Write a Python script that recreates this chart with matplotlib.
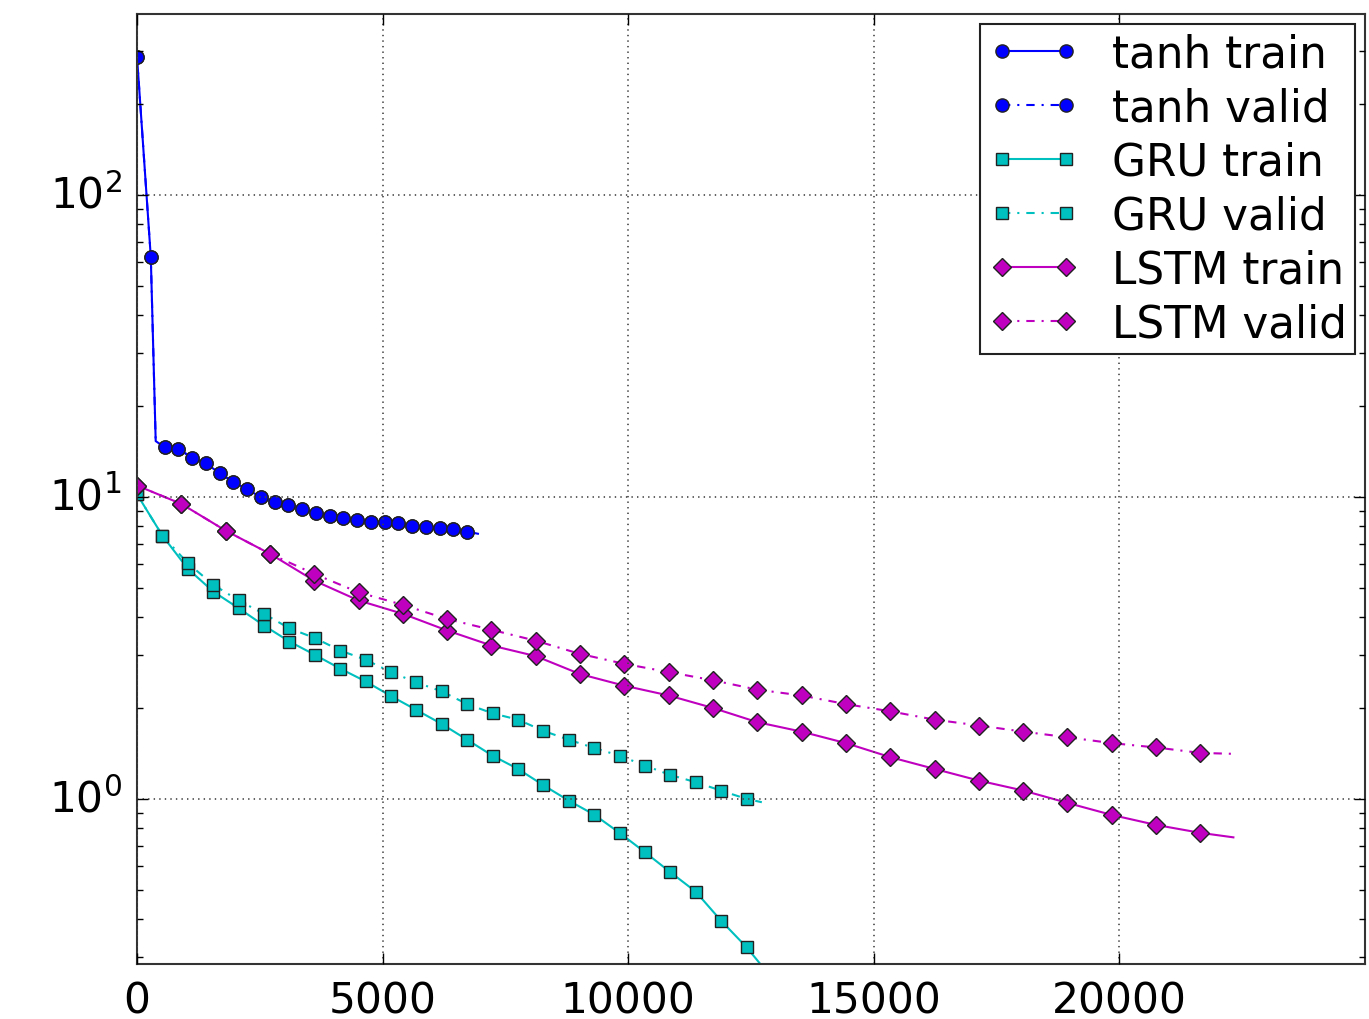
import matplotlib
matplotlib.use('Agg')
import matplotlib.pyplot as plt
from matplotlib.ticker import LogLocator, NullFormatter

# ---------------- data ----------------
tanh_steps = [0, 280, 380, 560, 840, 1120, 1400, 1680, 1960, 2240, 2520, 2800, 3080,
              3360, 3640, 3920, 4200, 4480, 4760, 5040, 5320, 5600, 5880, 6160, 6440,
              6720, 6940]
tanh_train = [286, 62.3, 15.3, 14.6, 14.4, 13.5, 12.9, 12.0, 11.2, 10.6, 9.98, 9.61, 9.43,
              9.13, 8.85, 8.67, 8.50, 8.41, 8.25, 8.25, 8.18, 8.03, 7.94, 7.88, 7.84,
              7.68, 7.55]
tanh_valid = [286, 62.3, 15.3, 14.6, 14.4, 13.5, 12.9, 12.0, 11.2, 10.6, 9.98, 9.61, 9.43,
              9.13, 8.85, 8.67, 8.50, 8.41, 8.25, 8.25, 8.18, 8.03, 7.94, 7.88, 7.84,
              7.68, 7.55]
tanh_marks = [0, 1] + list(range(3, 26))

gru_steps = [0, 517, 1034, 1551, 2068, 2585, 3102, 3619, 4136, 4653, 5170, 5687, 6204,
             6721, 7238, 7755, 8272, 8789, 9306, 9823, 10340, 10857, 11374, 11891, 12408,
             12720]
gru_train = [10.2, 7.44, 5.78, 4.86, 4.28, 3.75, 3.32, 3.00, 2.70, 2.45, 2.19, 1.97, 1.77,
             1.57, 1.39, 1.257, 1.11, 0.987, 0.887, 0.772, 0.666, 0.572, 0.493, 0.395, 0.323,
             0.28]
gru_valid = [10.2, 7.44, 6.03, 5.12, 4.54, 4.10, 3.67, 3.41, 3.10, 2.89, 2.63, 2.43, 2.27,
             2.06, 1.92, 1.83, 1.68, 1.57, 1.475, 1.39, 1.29, 1.20, 1.136, 1.065, 1.00,
             0.975]
gru_marks = list(range(0, 25))

lstm_steps = [0, 902, 1804, 2706, 3608, 4510, 5412, 6314, 7216, 8118, 9020, 9922, 10824,
              11726, 12628, 13530, 14432, 15334, 16236, 17138, 18040, 18942, 19844, 20746,
              21648, 22320]
lstm_train = [10.9, 9.48, 7.73, 6.48, 5.28, 4.54, 4.10, 3.61, 3.22, 2.97, 2.59, 2.37, 2.20,
              2.00, 1.795, 1.67, 1.53, 1.375, 1.257, 1.15, 1.066, 0.97, 0.885, 0.82, 0.772,
              0.746]
lstm_valid = [10.9, 9.48, 7.73, 6.48, 5.56, 4.83, 4.39, 3.94, 3.63, 3.34, 3.02, 2.80, 2.63,
              2.47, 2.30, 2.20, 2.06, 1.95, 1.83, 1.75, 1.67, 1.60, 1.53, 1.48, 1.42,
              1.41]
lstm_marks = list(range(0, 25))

labels = ["tanh train", "tanh valid", "GRU train", "GRU valid", "LSTM train", "LSTM valid"]
x_ticks = [0, 5000, 10000, 15000, 20000]

# ---------------- plot ----------------
plt.style.use('classic')
fig = plt.figure(figsize=(13.69, 10.20), dpi=100)
fig.patch.set_facecolor('white')
ax = fig.add_axes([0.1001, 0.0539, 0.8970, 0.9314])

common = dict(lw=1.5, mec='#222222', mew=1.0)
dashdot = (6, 5, 1.5, 5)
ax.plot(tanh_steps, tanh_train, '-', color='b', marker='o', ms=9.5,
        markevery=tanh_marks, label=labels[0], **common)
ax.plot(tanh_steps, tanh_valid, '-.', color='b', marker='o', ms=9.5, dashes=dashdot,
        markevery=tanh_marks, label=labels[1], **common)
ax.plot(gru_steps, gru_train, '-', color='c', marker='s', ms=8,
        markevery=gru_marks, label=labels[2], **common)
ax.plot(gru_steps, gru_valid, '-.', color='c', marker='s', ms=8, dashes=dashdot,
        markevery=gru_marks, label=labels[3], **common)
ax.plot(lstm_steps, lstm_train, '-', color='m', marker='D', ms=9.5,
        markevery=lstm_marks, label=labels[4], **common)
ax.plot(lstm_steps, lstm_valid, '-.', color='m', marker='D', ms=9.5, dashes=dashdot,
        markevery=lstm_marks, label=labels[5], **common)

ax.set_yscale('log')
ax.set_xlim(0, 25000)
ax.set_ylim(0.284, 397)
ax.set_xticks(x_ticks)
ax.yaxis.set_major_locator(LogLocator(base=10))
ax.yaxis.set_minor_locator(LogLocator(base=10, subs=range(2, 10)))
ax.yaxis.set_minor_formatter(NullFormatter())

ax.grid(True, which='major', ls=':', color='#444444', lw=1.2)
ax.tick_params(axis='both', which='major', labelsize=30.5, direction='in',
               length=8, width=1, pad=11, top=True, right=True)
ax.tick_params(axis='both', which='minor', direction='in', length=4, width=1,
               top=True, right=True)
for s in ax.spines.values():
    s.set_linewidth(1.5)
    s.set_color('#333333')

leg = ax.legend(loc='upper right', fontsize=31.5, numpoints=2, fancybox=False,
                handlelength=2.06, handletextpad=0.75, labelspacing=0.25,
                borderaxespad=0.22, borderpad=0.2)
leg.get_frame().set_edgecolor('#222222')
leg.get_frame().set_linewidth(1.5)

fig.savefig('out.png', dpi=100, facecolor='white')
